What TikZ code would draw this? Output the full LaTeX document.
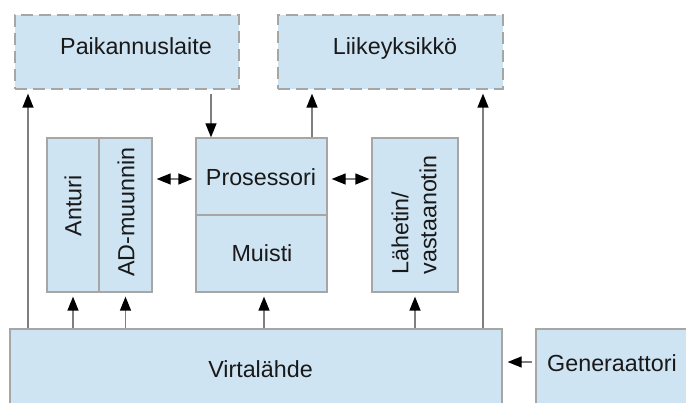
\documentclass[tikz,border=0pt]{standalone}
\usepackage{fontspec}
\setmainfont{Liberation Sans}
\usetikzlibrary{arrows.meta}
\definecolor{boxfill}{HTML}{CFE4F3}
\definecolor{boxline}{HTML}{A6A6A6}
\definecolor{wire}{HTML}{7F7F7F}
\tikzset{
  unit/.style={draw=boxline, fill=boxfill, line width=1.3pt, inner sep=0pt, rectangle},
  optunit/.style={unit, dash pattern=on 12pt off 6pt},
  lbl/.style={inner sep=0pt, font=\fontsize{23.3}{28}\selectfont, text=black!90},
  headtip/.tip={Triangle[length=14pt,width=11pt,color=black]},
  conn/.style={draw=wire, line width=1.3pt, -headtip},
  both/.style={draw=wire, line width=1.3pt, headtip-headtip},
}
\begin{document}
\begin{tikzpicture}[x=1pt, y=-1pt]
\useasboundingbox (0,0) rectangle (686,403);
\clip (0,0) rectangle (686,403);

% external units (dashed)
\node[optunit, minimum width=224pt, minimum height=74pt] (pai) at (127,52) {};
\node[optunit, minimum width=225pt, minimum height=74pt] (lii) at (390.5,52) {};
\node[lbl, anchor=base] (paiT) at (136,55) {Paikannuslaite};
\node[lbl, anchor=base] (liiT) at (395,55) {Liikeyksikkö};

% sensor chain
\node[unit, minimum width=52pt, minimum height=154pt] (ant) at (73,215) {};
\node[unit, minimum width=53pt, minimum height=154pt] (adm) at (125.5,215) {};
\node[lbl, rotate=90] (antT) at (73,206) {Anturi};
\node[lbl, rotate=90] (admT) at (126,212) {AD-muunnin};

% processor and memory
\node[unit, minimum width=131pt, minimum height=77pt] (pro) at (261.5,176.5) {};
\node[unit, minimum width=131pt, minimum height=77pt] (mui) at (261.5,253.5) {};
\node[lbl, anchor=base] (proT) at (261,186) {Prosessori};
\node[lbl, anchor=base] (muiT) at (262,262) {Muisti};

% radio
\node[unit, minimum width=86pt, minimum height=154pt] (lah) at (415,215) {};
\node[lbl, rotate=90, align=left] (lahT) at (414,215) {Lähetin/\\vastaanotin};

% power
\node[unit, minimum width=492pt, minimum height=90pt] (vir) at (256,374) {};
\node[unit, minimum width=170pt, minimum height=90pt] (gen) at (621,374) {};
\node[lbl, anchor=base] (virT) at (260.5,378) {Virtalähde};
\node[lbl, anchor=base] (genT) at (612,372) {Generaattori};

% helper positions for the wires
\coordinate (xL) at (28,0);
\coordinate (xR) at (483,0);
\coordinate (xP) at (211,0);
\coordinate (xQ) at (312,0);
\coordinate (xM) at (264,0);
\coordinate (yH) at (0,179);
\coordinate (yG) at (0,362);

% power feeds
\draw[conn, shorten >=4pt] (vir.north -| xL) -- (pai.south -| xL);
\draw[conn, shorten >=4pt] (vir.north -| xR) -- (lii.south -| xR);
\draw[conn, shorten >=4pt] (vir.north -| ant.south) -- (ant.south);
\draw[conn, shorten >=4pt] (vir.north -| adm.south) -- (adm.south);
\draw[conn, shorten >=4pt] (vir.north -| xM) -- (mui.south -| xM);
\draw[conn, shorten >=4pt] (vir.north -| lah.south) -- (lah.south);
\draw[conn, shorten <=3pt, shorten >=5pt] (gen.west |- yG) -- (vir.east |- yG);

% data paths
\draw[conn, shorten <=4pt] (pai.south -| xP) -- (pro.north -| xP);
\draw[conn, shorten >=4pt] (pro.north -| xQ) -- (lii.south -| xQ);
\draw[both, shorten <=4pt, shorten >=3pt] (adm.east |- yH) -- (pro.west |- yH);
\draw[both, shorten <=4pt, shorten >=2pt] (pro.east |- yH) -- (lah.west |- yH);
\end{tikzpicture}
\end{document}
